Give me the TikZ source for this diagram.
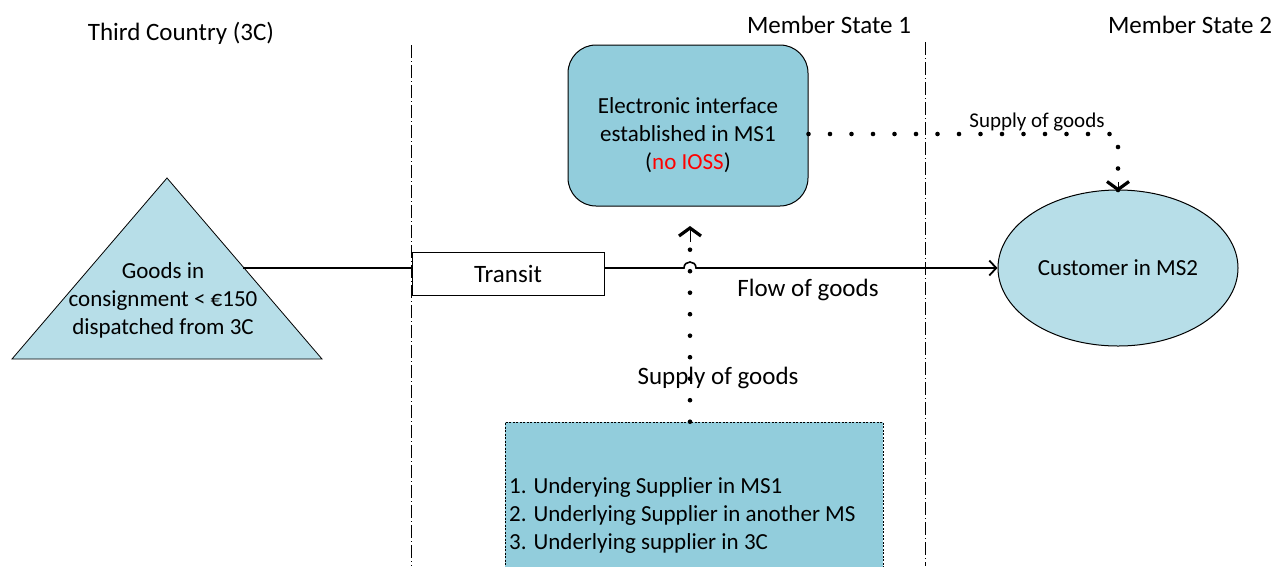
\documentclass[tikz,border=0pt]{standalone}
\usepackage{fontspec}
\setmainfont{Carlito}
\usetikzlibrary{arrows.meta,shapes.geometric}
\definecolor{lightfill}{HTML}{B7DEE8}
\definecolor{boxfill}{HTML}{92CDDC}
\definecolor{ioss}{HTML}{FF0000}
\begin{document}
\begin{tikzpicture}[x=1pt,y=-1pt,
  every node/.style={font=\fontsize{25}{28}\selectfont, align=center, inner sep=0pt},
  boxtxt/.style={font=\fontsize{23}{28}\selectfont},
  smalltxt/.style={font=\fontsize{21}{24}\selectfont},
  divider/.style={line width=0.8pt, dash pattern=on 13pt off 3pt on 1pt off 3pt},
  dotline/.style={line width=4.6pt, line cap=round, dash pattern=on 0pt off 21.5pt},
  flow/.style={line width=1.6pt},
  bigtip/.style={-{Straight Barb[length=8pt,width=22pt,line width=3.2pt]}},
  flowtip/.style={-{Straight Barb[length=7pt,width=15pt,line width=1.8pt]}}
]
\useasboundingbox (0,0) rectangle (1278,566);

% dividers
\draw[divider] (411,45) -- (411,566);
\draw[divider] (925,42) -- (925,566);

% headings
\node (h3c) at (181,33) {Third Country (3C)};
\node (hms1) at (829,25) {Member State 1};
\node (hms2) at (1190,25) {Member State 2};

% triangle
\draw[fill=lightfill, line width=0.8pt] (167,178) -- (322,359) -- (12,359) -- cycle;
\node[boxtxt] (goods) at (163,300) {Goods in\\consignment < €150\\dispatched from 3C};
\coordinate (tri) at (243,268);

% transit
\node[draw, line width=1pt, minimum width=192pt, minimum height=43pt] (transit) at (508,273.5) {Transit};

% customer
\node[ellipse, draw, line width=1pt, fill=lightfill, minimum width=240pt, minimum height=156pt, boxtxt] (cust) at (1118,268) {Customer in MS2};

% electronic interface
\node[draw, line width=1pt, fill=boxfill, rounded corners=28pt, minimum width=240pt, minimum height=161pt] (ei) at (688,125.5) {};
\node[boxtxt] (eitext) at (688,135) {Electronic interface\\established in MS1\\(\textcolor{ioss}{no IOSS})};

% suppliers
\node[draw, line width=0.6pt, dash pattern=on 2pt off 1.5pt, fill=boxfill, minimum width=378pt, minimum height=160pt] (sup) at (694,502) {};
\node[boxtxt, anchor=west, align=left] (suptext) at (509,515) {1. Underying Supplier in MS1\\2. Underlying Supplier in another MS\\3. Underlying supplier in 3C};

% flow of goods
\draw[flow] (tri) -- (tri -| transit.west);
\draw[flow, flowtip] (transit.east |- tri) -- (684,268) .. controls (684,260) and (696,260) .. (696,268) -- (cust.west);
\node (flowlbl) at (808,290) {Flow of goods};

% supply lines
\draw[dotline] ([yshift=-8.5pt]ei.east) -| ([yshift=-2pt]cust.north);
\draw[bigtip] (1118,182) -- ([yshift=-2pt]cust.north);
\node[smalltxt] (sup1lbl) at (1037,122) {Supply of goods};

\draw[dotline] ([xshift=-4pt]sup.north) -- (690,236);
\draw[bigtip] (690,242) -- (690,226);
\node (sup2lbl) at (718,378) {Supply of goods};
\end{tikzpicture}
\end{document}
